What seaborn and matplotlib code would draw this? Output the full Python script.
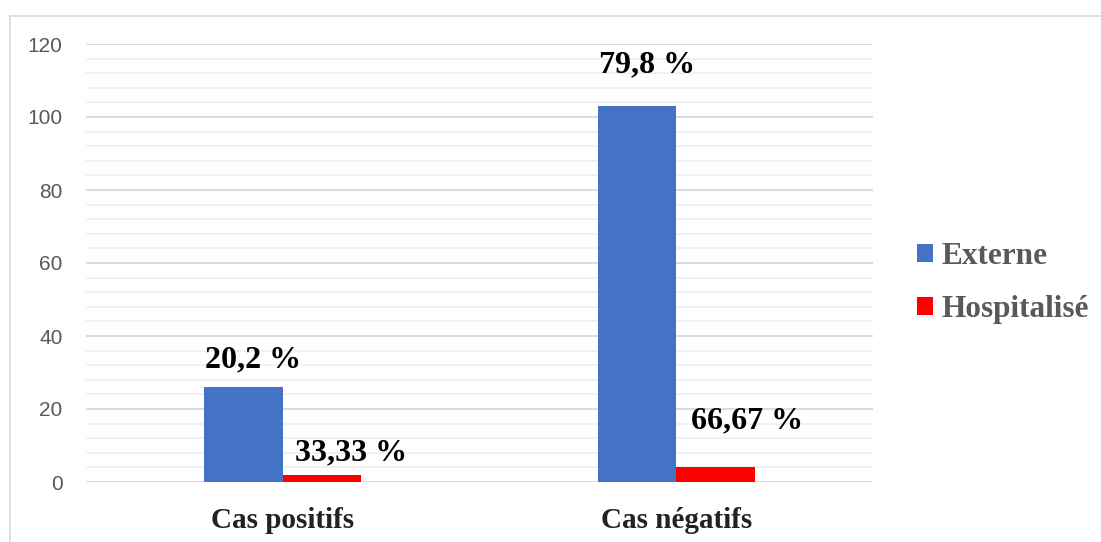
import matplotlib
matplotlib.use("Agg")
import matplotlib.pyplot as plt
from matplotlib.lines import Line2D
from matplotlib.ticker import MultipleLocator
from matplotlib.patches import Patch
import seaborn as sns
import pandas as pd

# Data
categories = ["Cas positifs", "Cas négatifs"]
groups = ["Externe", "Hospitalisé"]
externe = [26, 103]
hospitalise = [2, 4]
externe_labels = ["20,2 %", "79,8 %"]
hospitalise_labels = ["33,33 %", "66,67 %"]
y_ticks = [0, 20, 40, 60, 80, 100, 120]

colors = {"Externe": "#4472C4", "Hospitalisé": "#FF0000"}

df = pd.DataFrame({
    "categorie": categories * 2,
    "groupe": [groups[0]] * len(categories) + [groups[1]] * len(categories),
    "valeur": externe + hospitalise,
})

sns.set_theme(style="white")
W, H, DPI = 1101, 542, 100
fig = plt.figure(figsize=(W / DPI, H / DPI), dpi=DPI)
ax = fig.add_axes([86 / W, 1 - 482 / H, (873 - 86) / W, (482 - 44) / H])

sns.barplot(data=df, x="categorie", y="valeur", hue="groupe",
            order=categories, hue_order=groups, palette=colors,
            width=0.4, saturation=1, errorbar=None, ax=ax, legend=False,
            linewidth=0, zorder=3)

ax.set_xlim(-0.5, len(categories) - 0.5)
ax.set_ylim(0, 120)
ax.set_yticks(y_ticks)
ax.yaxis.set_minor_locator(MultipleLocator(4))
ax.grid(axis="y", which="major", color="#D9D9D9", linewidth=1.3, zorder=0)
ax.grid(axis="y", which="minor", color="#F0F0F0", linewidth=1.3, zorder=0)
ax.grid(axis="x", visible=False)
ax.set_axisbelow(True)
for s in ax.spines.values():
    s.set_visible(False)
ax.set_xlabel("")
ax.set_ylabel("")
ax.tick_params(axis="y", which="both", length=0, pad=17, labelsize=15,
               labelcolor="#595959")
ax.tick_params(axis="x", length=0, pad=18)
for t in ax.get_yticklabels():
    t.set_fontfamily("Liberation Sans")
for t in ax.get_xticklabels():
    t.set_fontfamily("Liberation Serif")
    t.set_fontweight("bold")
    t.set_fontsize(21)
    t.set_color("#222222")

# Percentage labels above bars (offsets in points)
label_sets = [externe_labels, hospitalise_labels]
offsets = [[(7, 14), (7, 24)], [(21, 10), (23, 28)]]
for gi, container in enumerate(ax.containers):
    for bi, bar in enumerate(container):
        cx = bar.get_x() + bar.get_width() / 2
        top = bar.get_height()
        ax.annotate(label_sets[gi][bi], xy=(cx, top),
                    xytext=offsets[gi][bi], textcoords="offset points",
                    ha="center", va="baseline", fontsize=23,
                    fontweight="bold", family="Liberation Serif",
                    color="black", zorder=5)

# Legend
handles = [Patch(facecolor=colors[g], edgecolor="none", label=g) for g in groups]
leg = fig.legend(handles=handles, loc="center left",
                 bbox_to_anchor=(917 / W, 1 - 283 / H), frameon=False,
                 borderpad=0, borderaxespad=0,
                 handlelength=0.52, handleheight=0.52, handletextpad=0.28,
                 labelspacing=0.78,
                 prop={"family": "Liberation Serif", "weight": "bold", "size": 22.5})
for t in leg.get_texts():
    t.set_color("#595959")

# Chart frame lines (top and left)
fig.add_artist(Line2D([10 / W, 1], [1 - 16 / H, 1 - 16 / H], color="#D9D9D9",
                      linewidth=1.2, transform=fig.transFigure))
fig.add_artist(Line2D([10 / W, 10 / W], [0, 1 - 16 / H], color="#D9D9D9",
                      linewidth=1.2, transform=fig.transFigure))

fig.savefig("out.png", dpi=DPI, facecolor="white")
